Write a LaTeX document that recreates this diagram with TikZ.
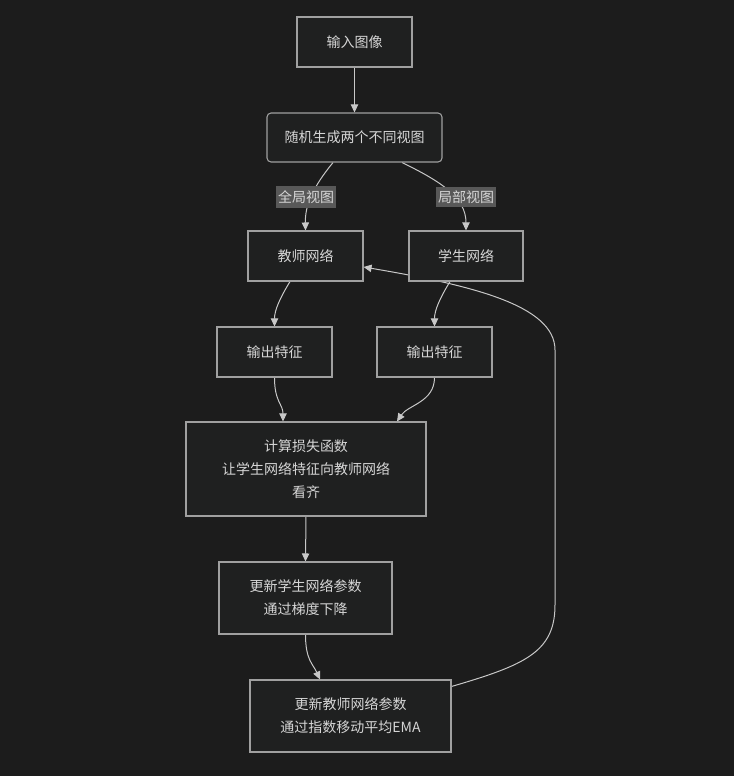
\documentclass[tikz,border=0pt]{standalone}
\usepackage{fontspec}
\newfontfamily\cjk{Noto Sans CJK SC}
\usetikzlibrary{arrows.meta,calc,backgrounds}
\definecolor{bgc}{HTML}{1C1C1C}
\definecolor{nodefill}{HTML}{1F2020}
\definecolor{nodeline}{HTML}{A0A0A0}
\definecolor{edgec}{HTML}{C8C8C8}
\definecolor{txt}{HTML}{D6D6D6}
\definecolor{lblbg}{HTML}{585858}
\pgfdeclarelayer{bottom}
\pgfsetlayers{bottom,background,main}
\tikzset{
  box/.style={draw=nodeline, line width=0.8pt, fill=nodefill, text=txt, inner sep=0pt, align=center,
    font=\cjk\fontsize{10.5pt}{17.25pt}\selectfont},
  lbl/.style={fill=lblbg, text=txt, inner xsep=1.2pt, inner ysep=3pt, font=\cjk\fontsize{10.5pt}{12pt}\selectfont},
  edge/.style={draw=edgec, line width=0.75pt, -{Triangle[length=6pt,width=5.5pt]}},
}
\begin{document}
\begin{tikzpicture}[x=0.75pt,y=-0.75pt]
\begin{pgfonlayer}{bottom}
\fill[bgc] (0,0) rectangle (734,776);
\end{pgfonlayer}
\useasboundingbox (0,0) rectangle (734,776);

\node[box, minimum width=115*0.75pt, minimum height=50*0.75pt] (input) at (354.5,42) {输入图像};
\node[box, rounded corners=3pt, minimum width=175*0.75pt, minimum height=49*0.75pt] (rand) at (354.5,137.5) {随机生成两个不同视图};
\node[box, minimum width=115*0.75pt, minimum height=50*0.75pt] (teacher) at (305.5,256) {教师网络};
\node[box, minimum width=114*0.75pt, minimum height=50*0.75pt] (student) at (466,256) {学生网络};
\node[box, minimum width=115*0.75pt, minimum height=50*0.75pt] (out1) at (274.5,352) {输出特征};
\node[box, minimum width=115*0.75pt, minimum height=50*0.75pt] (out2) at (434.5,352) {输出特征};
\node[box, minimum width=240*0.75pt, minimum height=94*0.75pt] (loss) at (306,469) {计算损失函数\\让学生网络特征向教师网络\\看齐};
\node[box, minimum width=173*0.75pt, minimum height=72*0.75pt] (upS) at (305.5,598) {更新学生网络参数\\通过梯度下降};
\node[box, minimum width=201*0.75pt, minimum height=72*0.75pt] (upT) at (350.5,716) {更新教师网络参数\\通过指数移动平均EMA};

\begin{pgfonlayer}{background}
\draw[edge] (input.south) -- (rand.north);
\draw[edge] ($(rand.south)+(-21.5,0)$) .. controls (313,187) and (305,205) .. (teacher.north);
\draw[edge] ($(rand.south)+(47.5,0)$) .. controls (442,182) and (466,198) .. (student.north);
\draw[edge] ($(teacher.south)+(-15.5,0)$) .. controls (280,298) and (274.5,310) .. (out1.north);
\draw[edge] ($(student.south)+(-16,0)$) .. controls (440,298) and (434.5,310) .. (out2.north);
\draw[edge] (out1.south) .. controls (274.5,402) and (283,404) .. ($(loss.north)+(-23,0)$);
\draw[edge] (out2.south) .. controls (434.5,402) and (408,405) .. ($(loss.north)+(91,0)$);
\draw[edge] (loss.south) -- (upS.north);
\draw[edge] (upS.south) .. controls (305.5,660) and (313,664) .. ($(upT.north)+(-30.5,0)$);
\draw[edge] ($(upT.north east)+(0,7)$) .. controls (525,665) and (555,652) .. (555,605)
  -- (555,350) .. controls (555,305) and (470,285) .. ($(teacher.east)+(0,11)$);
\end{pgfonlayer}

\node[lbl] (lg) at (306,197) {全局视图};
\node[lbl] (ll) at (466,197) {局部视图};
\end{tikzpicture}
\end{document}
